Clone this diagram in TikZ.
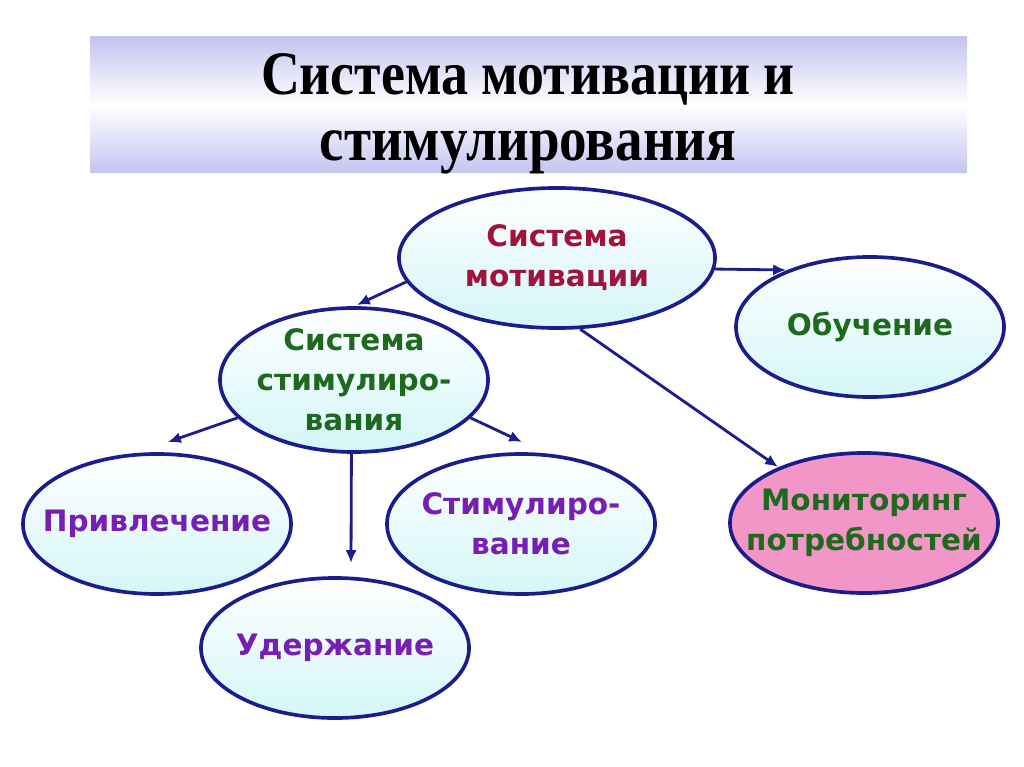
\documentclass[tikz,border=0pt]{standalone}
\usepackage{fontspec}
\setmainfont{DejaVu Sans}
\newfontfamily\titlefont[FakeStretch=0.87]{Liberation Serif}
\usetikzlibrary{shapes.geometric, arrows.meta}
\definecolor{navy}{RGB}{28,28,140}
\definecolor{skyfill}{RGB}{212,246,248}
\definecolor{lavender}{RGB}{196,196,240}
\definecolor{pinkfill}{RGB}{242,150,200}
\definecolor{motred}{RGB}{160,20,60}
\definecolor{leafgreen}{RGB}{30,105,30}
\definecolor{violet}{RGB}{120,30,180}

\begin{document}
\begin{tikzpicture}[x=0.025cm, y=-0.025cm, align=center, font=\bfseries\fontsize{21}{28.5}\selectfont]
	\tikzstyle{bubble}=[ellipse, draw=navy, line width=2.6pt, inner sep=-0.9cm, top color=white, bottom color=skyfill, minimum width=6.7cm, minimum height=3.5cm]
	\tikzstyle{link}=[navy, line width=2pt, -{Latex[length=3.2mm,width=2.8mm]}]

	\useasboundingbox (0,0) rectangle (1024,767);

	\shade[top color=lavender, bottom color=lavender, middle color=white] (90,37) rectangle (967,173);
	\node[font=\titlefont\bfseries\fontsize{44}{47}\selectfont] (title) at (528,114) {Система мотивации и\\{\fontsize{45}{47}\selectfont стимулирования}};

	\node[bubble, minimum width=7.9cm, text=motred] (motiv) at (557,258) {Система\\мотивации};
	\node[bubble, text=leafgreen] (learn) at (870,327) {Обучение};
	\node[bubble, minimum height=3.6cm, text=leafgreen] (stim) at (354,380) {Система\\стимулиро-\\вания};
	\node[bubble, text=violet] (attract) at (157,524) {Привлечение};
	\node[bubble, text=violet] (reward) at (521,524) {Стимулиро-\\вание};
	\node[bubble, text=violet] (retain) at (335,648) {Удержание};
	\node[bubble, top color=pinkfill, bottom color=pinkfill, text=leafgreen] (monitor) at (864,523) {Мониторинг\\потребностей};

	\coordinate (stimtip) at (357,305);
	\coordinate (learntip) at (786,270);
	\coordinate (monitortip) at (778,467);
	\coordinate (attracttip) at (168,442);
	\coordinate (rewardtip) at (522,442);
	\coordinate (retaintip) at (351,563);

	\draw[link] (motiv.189) -- (stimtip);
	\draw[link] (motiv.-4) -- (learntip);
	\draw[link] (motiv.-72) -- (monitortip);
	\draw[link] (stim.198) -- (attracttip);
	\draw[link] (stim.-18) -- (rewardtip);
	\draw[link] (stim.-92) -- (retaintip);
\end{tikzpicture}
\end{document}
